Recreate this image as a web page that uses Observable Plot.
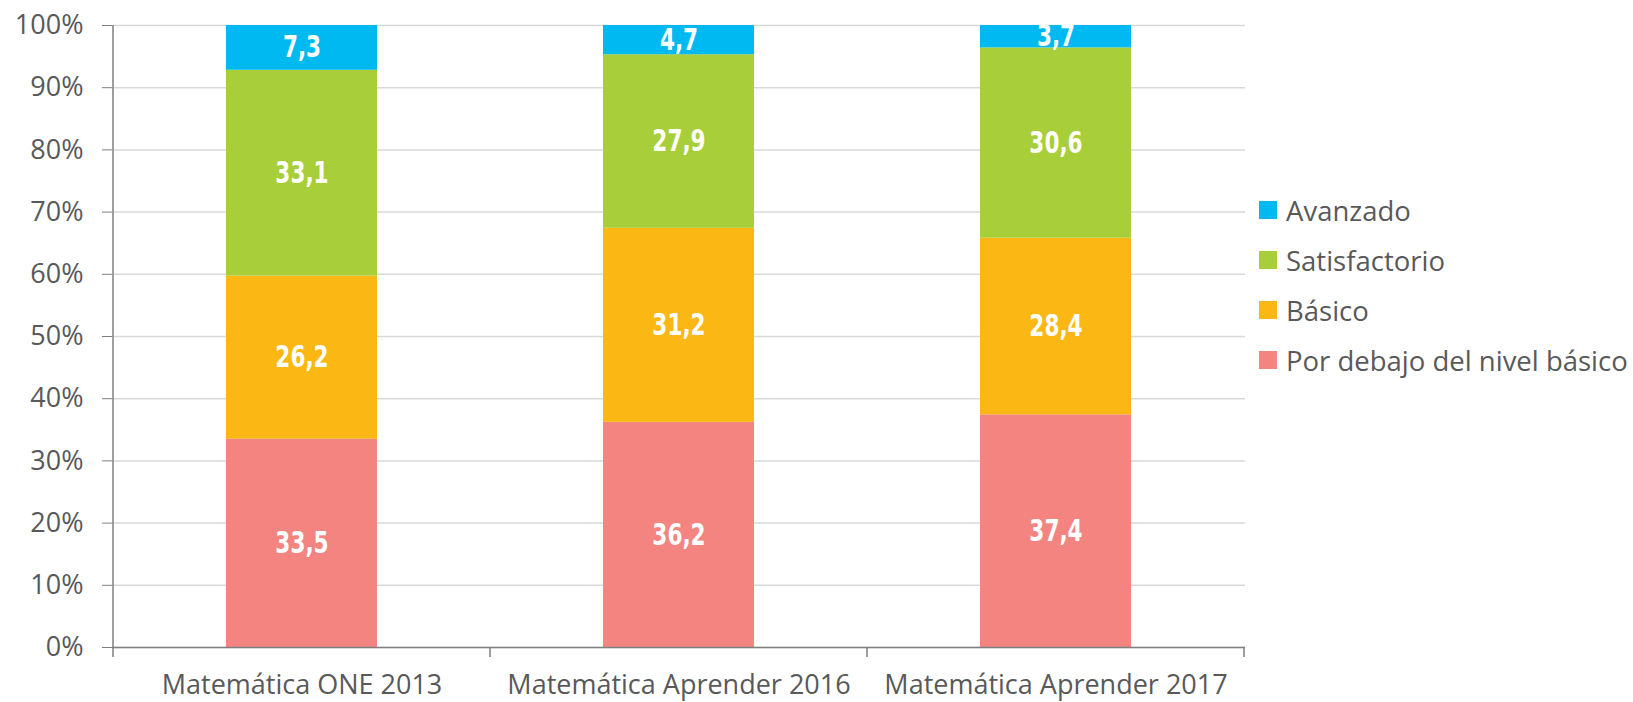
<!DOCTYPE html>
<html>
<head>
<meta charset="utf-8">
<script src="https://cdn.jsdelivr.net/npm/d3@7"></script>
<script src="https://cdn.jsdelivr.net/npm/@observablehq/plot@0.6"></script>
<style>
  html, body { margin: 0; padding: 0; background: #fff; }
  #wrap { position: relative; width: 1633px; height: 702px; }
  #legend { position: absolute; left: 1259px; top: 185px; font-family: "Open Sans", sans-serif; font-size: 27.5px; color: #595959; }
  #legend .row { display: flex; align-items: center; height: 50px; }
  #legend .sw { width: 18px; height: 18px; margin-right: 9px; flex: none; }
</style>
</head>
<body>
<div id="wrap"><div id="legend"></div></div>
<script>
const categories = ["Matemática ONE 2013", "Matemática Aprender 2016", "Matemática Aprender 2017"];
const levels = ["Por debajo del nivel básico", "Básico", "Satisfactorio", "Avanzado"];
const legendOrder = ["Avanzado", "Satisfactorio", "Básico", "Por debajo del nivel básico"];
const colors = ["#F4847F", "#FBB714", "#A8CE39", "#00B9F1"];
const porDebajo = [33.5, 36.2, 37.4];
const basico = [26.2, 31.2, 28.4];
const satisfactorio = [33.1, 27.9, 30.6];
const avanzado = [7.3, 4.7, 3.7];
const yTicks = [0, 10, 20, 30, 40, 50, 60, 70, 80, 90, 100];

const series = [porDebajo, basico, satisfactorio, avanzado];
const data = [];
categories.forEach((c, i) => {
  levels.forEach((l, j) => data.push({cat: c, level: l, value: series[j][i]}));
});

const stackOpts = {x: "cat", y: "value", z: "level", order: levels};
const fmt = v => v.toFixed(1).replace(".", ",");

const plot = Plot.plot({
  width: 1633,
  height: 702,
  marginLeft: 112,
  marginRight: 388,
  marginTop: 25,
  marginBottom: 55,
  style: {fontFamily: "'Open Sans', sans-serif", background: "#fff"},
  x: {domain: categories, paddingInner: 0.6, paddingOuter: 0.3, align: 0.5, label: null},
  y: {domain: [0, 100], label: null},
  color: {domain: levels, range: colors},
  marks: [
    Plot.gridY(yTicks, {stroke: "#d9d9d9", strokeOpacity: 1, strokeWidth: 1.5}),
    Plot.barY(data, Plot.stackY({...stackOpts, fill: "level", clip: true})),
    Plot.text(data, Plot.stackY({...stackOpts, text: d => fmt(d.value), fill: "white",
      fontFamily: "'DejaVu Sans', sans-serif", fontWeight: "bold", fontSize: 30})),
    Plot.axisY({ticks: yTicks, tickFormat: d => d + "%", tickSize: 10, tickPadding: 19, fontSize: 27, color: "#595959", stroke: "#7f7f7f"}),
    Plot.axisX({tickSize: 0, tickPadding: 27, fontSize: 27, color: "#595959"}),
    Plot.ruleY([0], {stroke: "#7f7f7f", strokeWidth: 1.5})
  ]
});

// category boundary ticks and left axis line via the plot's own x scale
const xs = plot.scale("x");
const ys = plot.scale("y");
const step = xs.step;
const svg = d3.select(plot);
const y0 = ys.apply(0);
const y100 = ys.apply(100);
const firstLeft = xs.apply(categories[0]) - (step - xs.bandwidth) / 2;
const bounds = d3.range(categories.length + 1).map(i => firstLeft + i * step);
svg.append("line").attr("x1", bounds[0]).attr("x2", bounds[0]).attr("y1", y100).attr("y2", y0)
  .attr("stroke", "#7f7f7f").attr("stroke-width", 1.5);
svg.selectAll(".btick").data(bounds).join("line")
  .attr("x1", d => d).attr("x2", d => d).attr("y1", y0).attr("y2", y0 + 10)
  .attr("stroke", "#7f7f7f").attr("stroke-width", 1.5);

document.getElementById("wrap").prepend(plot);

// condense the in-bar value labels horizontally around their anchor (reference uses a narrow bold face);
// the vertical em offset (y attribute) is kept untouched
const valueTexts = new Set(data.map(d => fmt(d.value)));
svg.selectAll("text").filter(function() { return valueTexts.has(this.textContent.trim()); }).each(function() {
  const t = this.getAttribute("transform") || "";
  const xa = this.getAttribute("x");
  const xn = xa == null ? 0 : parseFloat(xa);
  if (xa != null && isFinite(xn) && xn !== 0 && !/em$/.test(xa)) {
    this.removeAttribute("x");
    this.setAttribute("transform", `${t} translate(${xn},0) scale(0.72,1)`);
  } else {
    this.setAttribute("transform", `${t} scale(0.72,1)`);
  }
});

const leg = d3.select("#legend");
legendOrder.forEach(l => {
  const row = leg.append("div").attr("class", "row");
  row.append("div").attr("class", "sw").style("background", colors[levels.indexOf(l)]);
  row.append("span").text(l);
});
</script>
</body>
</html>
